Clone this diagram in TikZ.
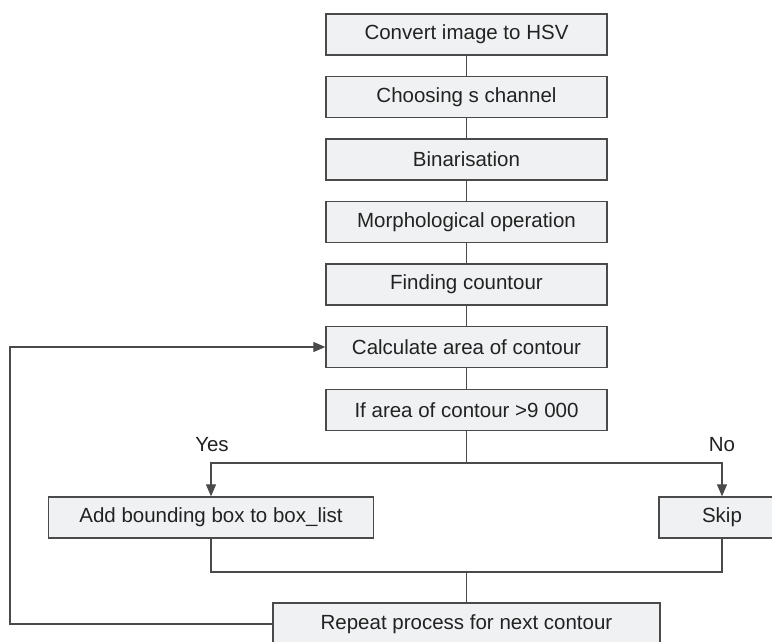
\documentclass[tikz,border=0pt]{standalone}
\usepackage{fontspec}
\setmainfont{Liberation Sans}
\usetikzlibrary{arrows.meta,calc}
\definecolor{boxfill}{HTML}{F0F1F2}
\definecolor{boxline}{HTML}{4A4A4A}
\definecolor{txt}{HTML}{222222}
\begin{document}
\begin{tikzpicture}[x=1pt,y=-1pt,
  box/.style={draw=boxline, fill=boxfill, line width=1.3pt, minimum height=41pt, inner sep=0pt,
    font=\fontsize{20.5}{24}\selectfont, text=txt},
  mainbox/.style={box, minimum width=281pt},
  conn/.style={draw=boxline, line width=1.2pt},
  arr/.style={conn, -{Triangle[length=12pt,width=10pt]}},
  lbl/.style={font=\fontsize{20.5}{24}\selectfont, text=txt, inner sep=0pt}]
\useasboundingbox (0,0) rectangle (772,642);
\node[mainbox] (b1) at (466.5,34.5) {Convert image to HSV};
\node[mainbox] (b2) at (466.5,97) {Choosing s channel};
\node[mainbox] (b3) at (466.5,159.5) {Binarisation};
\node[mainbox] (b4) at (466.5,222) {Morphological operation};
\node[mainbox] (b5) at (466.5,284.5) {Finding countour};
\node[mainbox] (b6) at (466.5,347) {Calculate area of contour};
\node[mainbox] (b7) at (466.5,410) {If area of contour >9 000};
\node[box, minimum width=325pt] (add) at (211,517.5) {Add bounding box to box\_list};
\node[box, minimum width=126pt] (skip) at (722,517.5) {Skip};
\node[box, minimum width=387pt, minimum height=42pt] (rep) at (466.5,624) {Repeat process for next contour};
\node[lbl] (yes) at (212,445) {Yes};
\node[lbl] (no) at (722,445) {No};
\coordinate (sp) at (466.5,463);
\coordinate (mg) at (466.5,572);
\coordinate (lp) at (10,624);
\draw[conn] (b1) -- (b2);
\draw[conn] (b2) -- (b3);
\draw[conn] (b3) -- (b4);
\draw[conn] (b4) -- (b5);
\draw[conn] (b5) -- (b6);
\draw[conn] (b6) -- (b7);
\draw[conn] (b7) -- (sp);
\draw[arr] (sp) -| (add.north);
\draw[arr] (sp) -| (skip.north);
\draw[conn] (add.south) |- (mg) -| (skip.south);
\draw[conn] (mg) -- (rep.north);
\draw[arr] (rep.west) -- (lp) |- (b6.west);
\end{tikzpicture}
\end{document}
